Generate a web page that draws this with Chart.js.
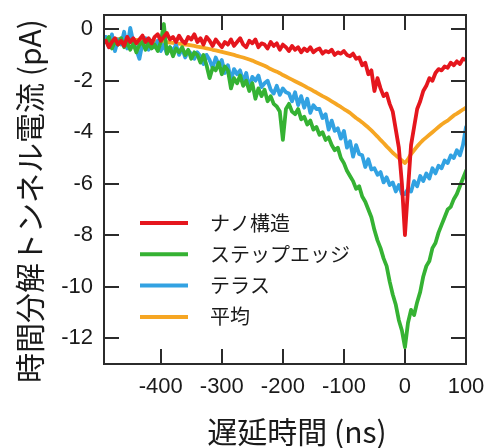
<!DOCTYPE html>
<html>
<head>
<meta charset="utf-8">
<script src="https://cdn.jsdelivr.net/npm/chart.js@4.4.1/dist/chart.umd.min.js"></script>
<style>
  html, body { margin: 0; padding: 0; background: #fff; }
  #wrap { width: 489px; height: 448px; }
</style>
</head>
<body>
<div id="wrap"><canvas id="grafico" width="489" height="448"></canvas></div>
<script>
// 遅延時間 (ns)
const tempos = [
  -490, -485, -480, -475, -470, -465, -460, -455, -450, -445,
  -440, -435, -430, -425, -420, -415, -410, -405, -400, -395,
  -390, -385, -380, -375, -370, -365, -360, -355, -350, -345,
  -340, -335, -330, -325, -320, -315, -310, -305, -300, -295,
  -290, -285, -280, -275, -270, -265, -260, -255, -250, -245,
  -240, -235, -230, -225, -220, -215, -210, -205, -200, -195,
  -190, -185, -180, -175, -170, -165, -160, -155, -150, -145,
  -140, -135, -130, -125, -120, -115, -110, -105, -100, -95,
  -90, -85, -80, -75, -70, -65, -60, -55, -50, -45,
  -40, -35, -30, -25, -20, -15, -10, -5, 0, 5,
  10, 15, 20, 25, 30, 35, 40, 45, 50, 55,
  60, 65, 70, 75, 80, 85, 90, 95, 100
];

// ナノ構造
const nano = [
  -0.45, -0.7, -0.5, -0.35, -0.6, -0.45, -0.65, -0.3, -0.5, -0.35,
  -0.55, -0.4, -0.25, -0.5, -0.35, -0.55, -0.3, -0.2, -0.45, -0.3,
  -0.15, -0.4, -0.3, -0.5, -0.25, -0.45, -0.55, -0.3, -0.4, -0.2,
  -0.5, -0.35, -0.6, -0.3, -0.45, -0.65, -0.4, -0.55, -0.7, -0.5,
  -0.6, -0.4, -0.65, -0.5, -0.35, -0.6, -0.7, -0.45, -0.55, -0.4,
  -0.7, -0.55, -0.6, -0.75, -0.5, -0.65, -0.55, -0.8, -0.6, -0.7,
  -0.85, -0.65, -0.8, -0.7, -0.9, -0.75, -0.85, -0.7, -0.9, -0.8,
  -0.75, -0.95, -0.85, -0.9, -0.8, -1.0, -0.9, -0.95, -0.85, -1.0,
  -1.05, -0.95, -1.15, -1.1, -1.4, -1.3, -1.75, -1.6, -2.4, -1.9,
  -2.3, -2.6, -2.5, -2.9, -3.2, -3.9, -4.6, -6.0, -8.0, -6.2,
  -4.5, -3.8, -3.1, -2.8, -2.4, -2.2, -1.9, -2.0, -1.7, -1.55,
  -1.6, -1.45, -1.5, -1.3, -1.4, -1.25, -1.35, -1.15, -1.2
];

// ステップエッジ
const stepEdge = [
  -0.5, -0.3, -0.75, -0.45, -0.6, -0.35, -0.7, -0.5, -0.8, -0.55,
  -0.9, -0.6, -0.5, -0.8, -0.55, -0.75, -0.6, -0.85, -0.5, 0.2,
  -0.95, -0.7, -1.05, -0.75, -0.9, -0.7, -1.0, -0.8, -1.15, -0.9,
  -1.0, -1.3, -1.0, -1.4, -1.9, -1.5, -1.6, -1.3, -1.75, -1.45,
  -1.6, -2.3, -1.9, -2.1, -1.8, -2.2, -2.0, -2.4, -2.1, -2.7,
  -2.3, -2.6, -2.35, -2.8, -2.6, -2.9, -3.0, -3.2, -4.3, -3.1,
  -2.9, -3.2, -3.3, -3.1, -3.5, -3.4, -3.7, -3.55, -3.9, -3.8,
  -4.1, -4.0, -4.3, -4.2, -4.5, -4.7, -4.6, -5.0, -5.2, -5.5,
  -5.7, -5.9, -6.2, -6.1, -6.5, -6.7, -7.0, -7.3, -7.8, -8.2,
  -8.5, -8.9, -9.2, -9.8, -10.3, -10.7, -11.3, -11.7, -12.35, -11.4,
  -10.9, -11.1, -10.6, -10.2, -9.6, -9.2, -9.0, -8.5, -8.3, -7.9,
  -7.6, -7.3, -7.0, -6.9, -6.6, -6.4, -6.1, -5.8, -5.5
];

// テラス
const terasu = [
  -0.3, -0.7, -0.2, -0.85, -0.4, -0.6, -0.1, -0.75, 0.05, -0.5,
  -0.8, -1.15, -0.55, -0.35, -0.8, -0.5, -0.7, -0.45, -0.85, -0.6,
  -0.95, -0.7, -0.85, -0.6, -1.0, -0.75, -1.1, -0.85, -0.95, -1.15,
  -0.9, -1.05, -1.35, -1.0, -1.2, -1.5, -1.1, -1.4, -1.2, -1.7,
  -1.4, -2.0, -1.55, -1.75, -1.6, -2.05, -1.7, -2.3, -1.85, -2.0,
  -1.8, -2.25, -2.1, -2.0, -2.35, -2.5, -2.2, -2.55, -2.3, -2.45,
  -2.5, -2.8, -2.45, -2.95, -2.6, -3.05, -2.7, -3.25, -2.95, -3.1,
  -3.1, -3.45, -3.3, -3.9, -3.55, -3.95, -3.85, -4.25, -3.95, -4.6,
  -4.35, -4.95, -4.5, -4.85, -4.9, -5.35, -5.05, -5.45, -5.4, -5.65,
  -5.55, -5.95, -5.75, -6.05, -5.95, -6.3, -6.05, -6.4, -6.4, -6.2,
  -6.3, -5.9, -6.1, -5.7, -5.9, -5.6, -5.8, -5.4, -5.6, -5.3,
  -5.4, -5.1, -5.2, -4.9, -5.0, -4.7, -4.9, -4.5, -3.8
];

// 平均
const heikin = [
  -0.35, -0.37, -0.36, -0.38, -0.39, -0.38, -0.4, -0.41, -0.4, -0.42,
  -0.42, -0.43, -0.44, -0.45, -0.45, -0.46, -0.47, -0.48, -0.48, -0.49,
  -0.5, -0.52, -0.53, -0.55, -0.56, -0.58, -0.6, -0.61, -0.63, -0.65,
  -0.68, -0.7, -0.72, -0.75, -0.77, -0.8, -0.82, -0.85, -0.88, -0.91,
  -0.94, -0.97, -1.0, -1.04, -1.07, -1.1, -1.14, -1.18, -1.22, -1.27,
  -1.32, -1.37, -1.42, -1.48, -1.55, -1.6, -1.65, -1.71, -1.78, -1.84,
  -1.9, -1.96, -2.02, -2.08, -2.14, -2.2, -2.27, -2.33, -2.4, -2.46,
  -2.53, -2.6, -2.66, -2.73, -2.8, -2.87, -2.95, -3.02, -3.1, -3.17,
  -3.25, -3.35, -3.45, -3.53, -3.62, -3.72, -3.82, -3.93, -4.05, -4.17,
  -4.3, -4.42, -4.55, -4.67, -4.8, -4.9, -5.0, -5.1, -5.2, -5.05,
  -4.85, -4.7, -4.55, -4.42, -4.3, -4.2, -4.1, -4.0, -3.9, -3.8,
  -3.7, -3.62, -3.55, -3.45, -3.35, -3.28, -3.2, -3.12, -3.05
];

const xTicks = [-400, -300, -200, -100, 0, 100];
const yTicks = [0, -2, -4, -6, -8, -10, -12];

const rotulos = ['ナノ構造', 'ステップエッジ', 'テラス', '平均'];
const cores = ['#e5161d', '#35b233', '#32a2e2', '#f6a623'];

const fonteNum = '22px "Liberation Sans", Arial, sans-serif';
const fonteJp = '"Noto Sans CJK JP", "Noto Sans", sans-serif';
const corTexto = '#1a1a1a';

function pontos(ys) {
    return tempos.map((t, i) => ({ x: t, y: ys[i] }));
}

// moldura, marcas para dentro, rótulos, legenda e títulos dos eixos
const extras = {
    id: 'extras',
    afterDraw(chart) {
        const ctx = chart.ctx;
        const a = chart.chartArea;
        const sx = chart.scales.x;
        const sy = chart.scales.y;
        const tam = 15;

        ctx.save();
        ctx.strokeStyle = '#2b2b2b';
        ctx.lineWidth = 2;
        ctx.strokeRect(a.left, a.top, a.right - a.left, a.bottom - a.top);

        ctx.beginPath();
        xTicks.forEach(v => {
            const px = Math.round(sx.getPixelForValue(v));
            ctx.moveTo(px, a.bottom); ctx.lineTo(px, a.bottom - tam);
            ctx.moveTo(px, a.top); ctx.lineTo(px, a.top + tam);
        });
        yTicks.forEach(v => {
            const py = Math.round(sy.getPixelForValue(v));
            ctx.moveTo(a.left, py); ctx.lineTo(a.left + tam, py);
            ctx.moveTo(a.right, py); ctx.lineTo(a.right - tam, py);
        });
        ctx.stroke();

        // rótulos dos eixos
        ctx.font = fonteNum;
        ctx.fillStyle = corTexto;
        ctx.textBaseline = 'middle';
        ctx.textAlign = 'center';
        xTicks.forEach(v => {
            ctx.fillText(String(v), sx.getPixelForValue(v), a.bottom + 23);
        });
        ctx.textAlign = 'right';
        yTicks.forEach(v => {
            ctx.fillText(String(v), a.left - 11, sy.getPixelForValue(v));
        });

        // legenda
        ctx.font = '20px ' + fonteJp;
        ctx.textAlign = 'left';
        chart.data.datasets.forEach((ds, i) => {
            const y = 223 + i * 31.3;
            ctx.strokeStyle = ds.borderColor;
            ctx.lineWidth = 4;
            ctx.beginPath();
            ctx.moveTo(140, y);
            ctx.lineTo(188, y);
            ctx.stroke();
            ctx.fillText(ds.label, 210, y);
        });

        // títulos
        ctx.font = '30px ' + fonteJp;
        ctx.textAlign = 'center';
        ctx.fillText('遅延時間 (ns)', 297, 432);
        ctx.translate(30, 201);
        ctx.rotate(-Math.PI / 2);
        ctx.fillText('時間分解トンネル電流 (pA)', 0, 0);
        ctx.restore();
    }
};

const series = [nano, stepEdge, terasu, heikin];

new Chart(document.getElementById('grafico'), {
    type: 'line',
    data: {
        datasets: series.map((s, i) => ({
            label: rotulos[i],
            data: pontos(s),
            borderColor: cores[i],
            backgroundColor: cores[i],
            borderWidth: 3.8,
            borderJoinStyle: 'round',
            borderCapStyle: 'round',
            pointRadius: 0,
            tension: 0,
            fill: false
        }))
    },
    options: {
        responsive: false,
        animation: false,
        layout: { padding: { left: 0, top: 15, right: 23, bottom: 0 } },
        plugins: {
            legend: { display: false },
            tooltip: { enabled: false }
        },
        scales: {
            x: {
                type: 'linear',
                min: -493,
                max: 100,
                grid: { display: false, drawTicks: false },
                border: { display: false },
                ticks: { display: false },
                afterFit: s => { s.height = 84; }
            },
            y: {
                type: 'linear',
                min: -13,
                max: 0.55,
                grid: { display: false, drawTicks: false },
                border: { display: false },
                ticks: { display: false },
                afterFit: s => { s.width = 104; }
            }
        }
    },
    plugins: [extras]
});
</script>
</body>
</html>
